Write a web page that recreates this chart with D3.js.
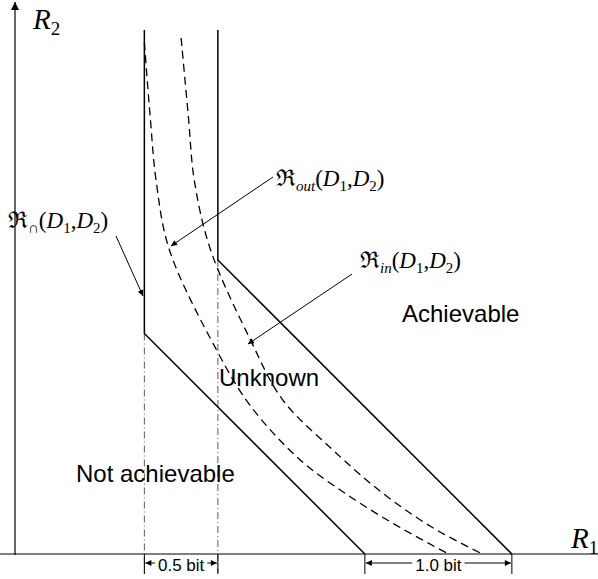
<!DOCTYPE html>
<html>
<head>
<meta charset="utf-8">
<script src="https://cdn.jsdelivr.net/npm/d3@7"></script>
<style>
  body { margin: 0; background: #fff; }
  .math { font-family: "Liberation Serif", "DejaVu Serif", serif; }
  .word { font-family: "Liberation Sans", Arial, sans-serif; }
</style>
</head>
<body>
<div id="vis"></div>
<script>
// Frame size
const FRAME_WIDTH = 598;
const FRAME_HEIGHT = 579;
const PX_PER_BIT = 147;
const ORIGIN = {x: 15, y: 554};

// Region boundaries in bits: [R1, R2]
const innerBound = [[0.88, 3.565], [0.88, 1.50], [2.38, 0]];
const outerBound = [[1.38, 3.565], [1.38, 2.00], [3.38, 0]];

// Dashed bounds
const outCurve = [[0.88, 3.48], [0.92, 2.97], [0.96, 2.54], [1.05, 2.07], [1.37, 1.39],
                  [1.60, 1.01], [1.94, 0.64], [2.28, 0.39], [2.62, 0.18], [2.95, 0.0]];
const inCurve = [[1.13, 3.51], [1.18, 2.97], [1.22, 2.54], [1.33, 2.07], [1.60, 1.46],
                 [1.82, 1.05], [2.16, 0.71], [2.50, 0.415], [2.84, 0.18], [3.18, 0.0]];

// Gap annotations
const gaps = [
  {from: 0.88, to: 1.38, label: "0.5 bit"},
  {from: 2.38, to: 3.38, label: "1.0 bit"}
];

// Scales
const X_SCALE = d3.scaleLinear().domain([0, 4]).range([ORIGIN.x, ORIGIN.x + 4 * PX_PER_BIT]);
const Y_SCALE = d3.scaleLinear().domain([0, 3.75]).range([ORIGIN.y, ORIGIN.y - 3.75 * PX_PER_BIT]);

const FRAME = d3.select("#vis")
  .append("svg")
    .attr("width", FRAME_WIDTH)
    .attr("height", FRAME_HEIGHT);

// arrow markers
const defs = FRAME.append("defs");
defs.append("marker")
    .attr("id", "head")
    .attr("viewBox", "0 0 10 10")
    .attr("refX", 10).attr("refY", 5)
    .attr("markerWidth", 9).attr("markerHeight", 6)
    .attr("markerUnits", "userSpaceOnUse")
    .attr("orient", "auto")
  .append("path")
    .attr("d", "M0,0 L10,5 L0,10 Z")
    .attr("fill", "#000");
defs.append("marker")
    .attr("id", "axisHead")
    .attr("viewBox", "0 0 10 10")
    .attr("refX", 10).attr("refY", 5)
    .attr("markerWidth", 10).attr("markerHeight", 8)
    .attr("markerUnits", "userSpaceOnUse")
    .attr("orient", "auto")
  .append("path")
    .attr("d", "M0,0 L10,5 L0,10 Z")
    .attr("fill", "#000");

// Axes
FRAME.append("line")
    .attr("x1", 0).attr("x2", FRAME_WIDTH)
    .attr("y1", Y_SCALE(0)).attr("y2", Y_SCALE(0))
    .attr("stroke", "#000").attr("stroke-width", 1.2);
FRAME.append("line")
    .attr("x1", X_SCALE(0)).attr("x2", X_SCALE(0))
    .attr("y1", Y_SCALE(0) + 1).attr("y2", 2)
    .attr("stroke", "#000").attr("stroke-width", 1.2)
    .attr("marker-end", "url(#axisHead)");

// dash-dot drop lines from the corners
[innerBound[1], outerBound[1]].forEach((p) => {
  FRAME.append("line")
      .attr("x1", X_SCALE(p[0])).attr("x2", X_SCALE(p[0]))
      .attr("y1", Y_SCALE(p[1])).attr("y2", Y_SCALE(0) + 19)
      .attr("stroke", "#333").attr("stroke-width", 0.8)
      .attr("stroke-dasharray", "7,3,1,3");
});

const line = d3.line()
  .x((d) => X_SCALE(d[0]))
  .y((d) => Y_SCALE(d[1]));

// solid bounds
[innerBound, outerBound].forEach((b) => {
  FRAME.append("path")
      .attr("d", line(b))
      .attr("fill", "none")
      .attr("stroke", "#000")
      .attr("stroke-width", 1.5);
});

// dashed bounds
const smooth = d3.line()
  .x((d) => X_SCALE(d[0]))
  .y((d) => Y_SCALE(d[1]))
  .curve(d3.curveCatmullRom.alpha(0.5));
[outCurve, inCurve].forEach((c) => {
  FRAME.append("path")
      .attr("d", smooth(c))
      .attr("fill", "none")
      .attr("stroke", "#000")
      .attr("stroke-width", 1.3)
      .attr("stroke-dasharray", "8,5");
});

// gap brackets under the axis
gaps.forEach((g) => {
  const x0 = X_SCALE(g.from), x1 = X_SCALE(g.to);
  const mid = (x0 + x1) / 2;
  [x0, x1].forEach((x) => {
    FRAME.append("line")
        .attr("x1", x).attr("x2", x)
        .attr("y1", Y_SCALE(0)).attr("y2", Y_SCALE(0) + 20)
        .attr("stroke", "#000").attr("stroke-width", 1);
  });
  const t = FRAME.append("text")
      .attr("class", "word")
      .attr("x", mid).attr("y", Y_SCALE(0) + 17)
      .attr("text-anchor", "middle")
      .attr("font-size", "17px")
      .text(g.label);
  const w = t.node().getComputedTextLength();
  FRAME.append("line")
      .attr("x1", mid - w / 2 - 3).attr("x2", x0 + 1)
      .attr("y1", Y_SCALE(0) + 9).attr("y2", Y_SCALE(0) + 9)
      .attr("stroke", "#000").attr("stroke-width", 1)
      .attr("marker-end", "url(#head)");
  FRAME.append("line")
      .attr("x1", mid + w / 2 + 3).attr("x2", x1 - 1)
      .attr("y1", Y_SCALE(0) + 9).attr("y2", Y_SCALE(0) + 9)
      .attr("stroke", "#000").attr("stroke-width", 1)
      .attr("marker-end", "url(#head)");
});

// axis labels
function axisLabel(x, y, sub) {
  const t = FRAME.append("text").attr("class", "math")
      .attr("x", x).attr("y", y).attr("font-size", "29px");
  t.append("tspan").attr("font-style", "italic").text("R");
  t.append("tspan").attr("font-size", "19px").attr("dy", 6).text(sub);
}
axisLabel(33, 29, "2");
axisLabel(571, 548, "1");

// region labels like ℜout(D1,D2)
function regionLabel(x, y, sub) {
  const t = FRAME.append("text").attr("class", "math")
      .attr("x", x).attr("y", y).attr("font-size", "23px");
  t.append("tspan").text("\u211C");
  t.append("tspan").attr("font-size", "15px").attr("font-style", "italic").attr("dy", 5).text(sub);
  t.append("tspan").attr("dy", -5).text("(");
  t.append("tspan").attr("font-style", "italic").text("D");
  t.append("tspan").attr("font-size", "15px").attr("dy", 5).text("1");
  t.append("tspan").attr("dy", -5).text(",");
  t.append("tspan").attr("font-style", "italic").text("D");
  t.append("tspan").attr("font-size", "15px").attr("dy", 5).text("2");
  t.append("tspan").attr("dy", -5).text(")");
}
regionLabel(8, 228, "\u2229");
regionLabel(276, 186, "out");
regionLabel(360, 268, "in");

// pointer arrows
const pointers = [[116, 236, 143, 296], [273, 177, 171, 246], [352, 274, 248, 344]];
pointers.forEach((p) => {
  FRAME.append("line")
      .attr("x1", p[0]).attr("y1", p[1])
      .attr("x2", p[2]).attr("y2", p[3])
      .attr("stroke", "#000").attr("stroke-width", 1)
      .attr("marker-end", "url(#head)");
});

// region words
[["Achievable", 402, 322], ["Unknown", 219, 386], ["Not achievable", 76, 482]].forEach((w) => {
  FRAME.append("text")
      .attr("class", "word")
      .attr("x", w[1]).attr("y", w[2])
      .attr("font-size", "24px")
      .text(w[0]);
});
</script>
</body>
</html>
